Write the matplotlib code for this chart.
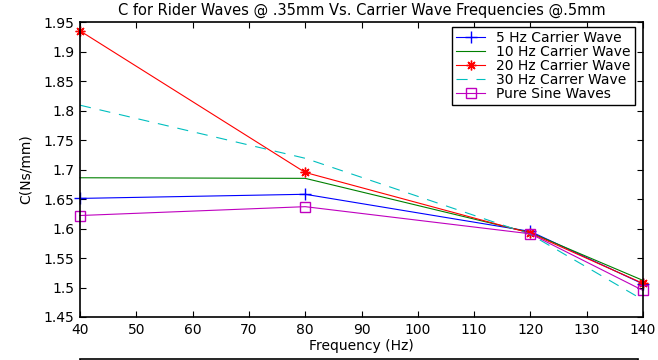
import numpy as np
import matplotlib.pyplot as plt
from matplotlib.patches import Rectangle

plt.rcParams['font.family'] = ['DejaVu Sans']

# data
freq = [40, 80, 120, 140]
c_5hz = [1.651, 1.658, 1.595, 1.506]
c_10hz = [1.686, 1.685, 1.593, 1.512]
c_20hz = [1.935, 1.695, 1.592, 1.507]
c_30hz = [1.809, 1.719, 1.590, 1.479]
c_sine = [1.622, 1.637, 1.591, 1.495]

fig = plt.figure(figsize=(6.58, 3.6), dpi=100)
ax = fig.add_axes([80 / 658, 1 - 317 / 360, (643 - 80) / 658, (317 - 22) / 360])

ax.plot(freq, c_5hz, color='b', marker='+', ms=8, mew=1, lw=0.8, clip_on=False,
        label='5 Hz Carrier Wave')
ax.plot(freq, c_10hz, color='g', lw=0.8, clip_on=False, label='10 Hz Carrier Wave')
ax.plot(freq, c_20hz, color='r', marker=(8, 2, 0), ms=7, mew=1, lw=0.8, clip_on=False,
        label='20 Hz Carrier Wave')
ax.plot(freq, c_30hz, color='c', ls=(0, (10, 8)), lw=0.8, clip_on=False, label='30 Hz Carrer Wave')
ax.plot(freq, c_sine, color='m', marker='s', ms=7, mfc='none', mew=1, lw=0.8, clip_on=False,
        label='Pure Sine Waves')

ax.set_xlim(40, 140)
ax.set_ylim(1.45, 1.95)
ax.set_xticks(np.arange(40, 141, 10))
ax.set_yticks(np.arange(1.45, 1.951, 0.05))
ax.set_yticklabels(['1.45', '1.5', '1.55', '1.6', '1.65', '1.7', '1.75', '1.8', '1.85', '1.9', '1.95'])
ax.tick_params(direction='in', top=True, right=True, labelsize=10, length=4, width=0.8, pad=4)
for s in ax.spines.values():
    s.set_linewidth(1.2)

ax.set_title('C for Rider Waves @ .35mm Vs. Carrier Wave Frequencies @.5mm', fontsize=10.5, pad=5)
ax.set_xlabel('Frequency (Hz)', fontsize=10, labelpad=2)
ax.set_ylabel('C(Ns/mm)', fontsize=10, labelpad=8)

leg = ax.legend(loc='upper right', bbox_to_anchor=(0.986, 0.983), fontsize=10,
                fancybox=False, framealpha=1, edgecolor='black', borderpad=0.3,
                labelspacing=0.0, handlelength=2.1, handletextpad=0.8, borderaxespad=0)
leg.get_frame().set_linewidth(1.0)

# partly visible box at the bottom edge
fig.patches.append(Rectangle((80 / 658, -0.05), (638 - 80) / 658, 0.05 + 1.5 / 360,
                             transform=fig.transFigure, fill=False, edgecolor='black', lw=1.2))

fig.savefig('out.png', dpi=100)
